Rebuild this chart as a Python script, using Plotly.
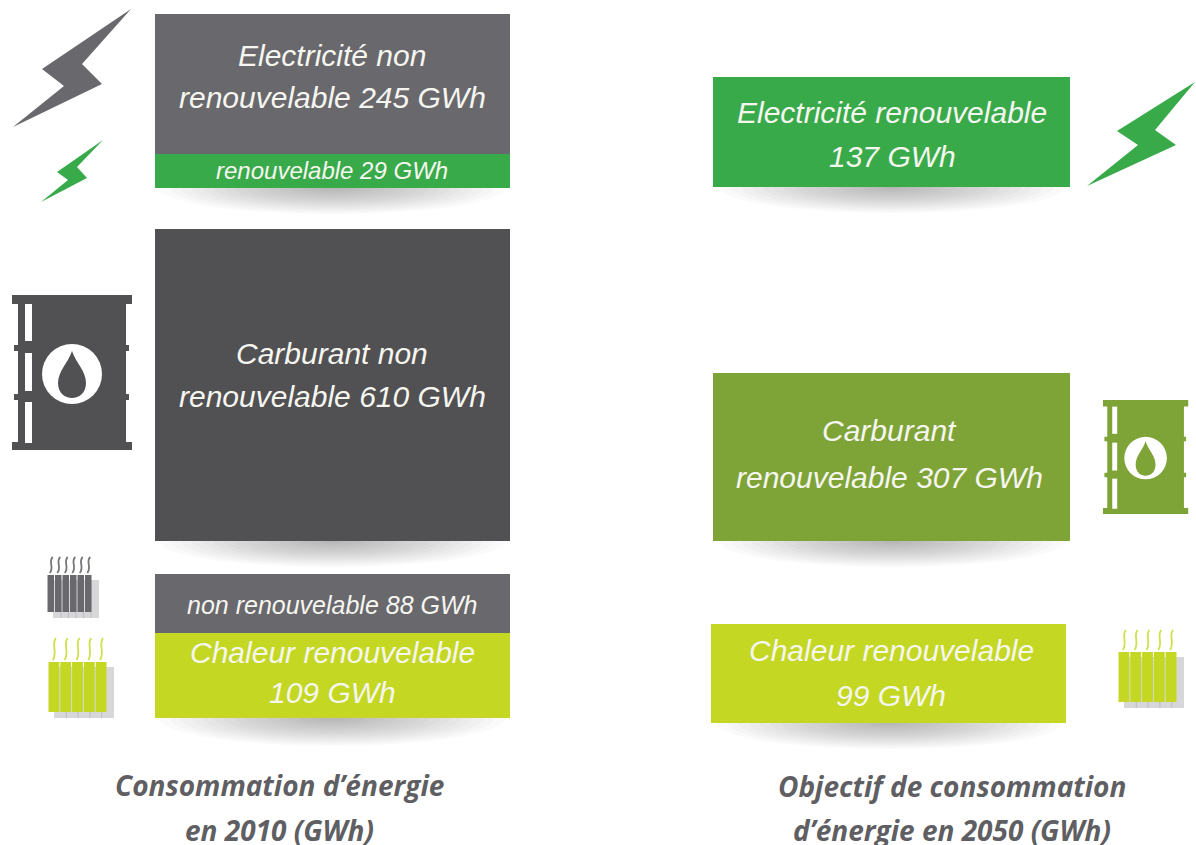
import plotly.graph_objects as go

# ---- data ----
left_values = [245, 29, 610, 88, 109]
right_values = [137, 307, 99]
left_labels = [
    ["Electricité non", "renouvelable {} GWh"],
    ["renouvelable {} GWh"],
    ["Carburant non", "renouvelable {} GWh"],
    ["non renouvelable {} GWh"],
    ["Chaleur renouvelable", "{} GWh"],
]
right_labels = [
    ["Electricité renouvelable", "{} GWh"],
    ["Carburant", "renouvelable {} GWh"],
    ["Chaleur renouvelable", "{} GWh"],
]
titles = [["Consommation d’énergie", "en 2010 (GWh)"], ["Objectif de consommation", "d’énergie en 2050 (GWh)"]]

# drawn block geometry (infographic is not to scale): x0, x1, top, bottom
left_blocks = [(155, 510, 14, 154), (155, 510, 154, 188), (155, 510, 229, 541), (155, 510, 574, 633), (155, 510, 633, 718)]
right_blocks = [(713, 1070, 77, 187), (713, 1070, 373, 541), (711, 1066, 624, 723)]
left_colors = ["#69686d", "#39aa4a", "#515053", "#69686d", "#c4d722"]
right_colors = ["#39aa4a", "#7ea337", "#c4d722"]
left_text_y = [[55, 97], [170], [353, 396], [605], [652, 692]]
right_text_y = [[112, 156], [430, 477], [650, 695]]
right_text_x = [892, 889, 891]
left_font = [30, 24, 30, 25, 30]
right_font = [30, 30, 30]

FONT = "Liberation Sans Narrow, Liberation Sans, sans-serif"
shapes, annotations = [], []


def path(d, color, opacity=1, line=None, lw=0):
    shapes.append(dict(type="path", path=d, fillcolor=color, opacity=opacity, layer="above",
                       line=dict(width=lw, color=line or color)))


def poly(pts, color):
    path("M" + " L".join(f"{x},{y}" for x, y in pts) + " Z", color)


def rect(x0, y0, x1, y1, color, opacity=1, layer="above"):
    shapes.append(dict(type="rect", x0=x0, y0=y0, x1=x1, y1=y1, fillcolor=color, opacity=opacity,
                       layer=layer, line=dict(width=0)))


def circle(cx, cy, r, color):
    shapes.append(dict(type="circle", x0=cx - r, x1=cx + r, y0=cy - r, y1=cy + r, fillcolor=color,
                       layer="above", line=dict(width=0)))


def soft_shadow(cx, y, w, h):
    n = 16
    for i in range(n):
        k = 1 - i / n
        shapes.append(dict(type="circle", x0=cx - w / 2 * k, x1=cx + w / 2 * k, y0=y - h * k, y1=y + h * k,
                           fillcolor="#444444", opacity=0.028, layer="below", line=dict(width=0)))


def barrel(x0, y0, s, sy, color):
    X = lambda v: x0 + v * s
    Y = lambda v: y0 + v * sy
    rect(X(6), Y(0), X(114), Y(155), color)
    rect(X(0), Y(0), X(120), Y(9), color)
    rect(X(0), Y(147), X(120), Y(155), color)
    for h in (53, 102):
        rect(X(2), Y(h - 3), X(117), Y(h + 3), color)
    for a, b in ((9, 46), (58, 96), (107, 148)):
        rect(X(13), Y(a), X(20), Y(b), "white")
    circle(X(60), Y(79), 30 * s, "white")
    d = (f"M{X(60)},{Y(56)} C{X(64)},{Y(68)} {X(74)},{Y(76)} {X(74)},{Y(88)} "
         f"C{X(74)},{Y(108)} {X(46)},{Y(108)} {X(46)},{Y(88)} C{X(46)},{Y(76)} {X(56)},{Y(68)} {X(60)},{Y(56)} Z")
    path(d, color)


def radiator(x0, y0, x1, y1, n, color, steam, steam_top):
    w = (x1 - x0) / n
    for i in range(n):
        rect(x0 + i * w + 6, y0 + 5, x0 + (i + 1) * w + 7, y1 + 6, "#8c8c96", 0.35)
    for i in range(n):
        path_x0, path_x1 = x0 + i * w + 0.5, x0 + (i + 1) * w - 0.5
        rect(path_x0, y0, path_x1, y1, color)
        sx = x0 + (i + 0.5) * w
        sh = y0 - steam_top - 2
        shapes.append(dict(type="path", layer="above", line=dict(width=1.8, color=steam),
                           path=f"M{sx + 2},{steam_top} C{sx - 3},{steam_top + sh * .3} {sx + 4},{steam_top + sh * .6} {sx - 1},{steam_top + sh}"))


# ---- soft shadows under blocks ----
soft_shadow(332, 188, 345, 26)
soft_shadow(332, 541, 345, 26)
soft_shadow(332, 718, 345, 28)
soft_shadow(892, 187, 345, 26)
soft_shadow(892, 541, 345, 26)
soft_shadow(889, 723, 345, 26)

# ---- blocks ----
fig = go.Figure()
for blocks, colors in ((left_blocks, left_colors), (right_blocks, right_colors)):
    fig.add_trace(go.Bar(
        x=[(b[0] + b[1]) / 2 for b in blocks],
        width=[b[1] - b[0] for b in blocks],
        base=[b[2] for b in blocks],
        y=[b[3] - b[2] for b in blocks],
        marker=dict(color=colors, line=dict(width=0)),
        hoverinfo="skip", showlegend=False))

# ---- labels ----
for vals, labs, ys, xs, sizes in (
    (left_values, left_labels, left_text_y, [332] * 5, left_font),
    (right_values, right_labels, right_text_y, right_text_x, right_font),
):
    for v, lab, yy, x, size in zip(vals, labs, ys, xs, sizes):
        for line, y in zip(lab, yy):
            annotations.append(dict(x=x, y=y, text="<i>" + line.format(v) + "</i>", showarrow=False,
                                    xanchor="center", yanchor="middle",
                                    font=dict(family=FONT, size=size, color="#f6f6f0")))

for lines, x, ys in ((titles[0], 279, (785, 830)), (titles[1], 952, (786, 830))):
    for line, y in zip(lines, ys):
        annotations.append(dict(x=x, y=y, text=f"<b><i>{line}</i></b>", showarrow=False, xanchor="center",
                                yanchor="middle", font=dict(family="Open Sans, sans-serif", size=28, color="#5f5f63")))

# ---- icons ----
poly([(131, 9), (42, 69), (64, 86), (13, 127), (102, 84), (82, 64)], "#69686d")
poly([(103, 140), (57, 172), (68, 180), (41, 202), (87, 178), (77, 167)], "#39aa4a")
poly([(1195, 82), (1117, 131), (1138, 145), (1087, 186), (1176, 145), (1155, 130)], "#39aa4a")
barrel(12, 295, 1, 1, "#515053")
barrel(1103, 400, 0.71, 0.735, "#7ea337")
radiator(47, 575, 92, 612, 6, "#69686d", "#77767b", 557)
radiator(48, 662, 107, 712, 5, "#c4d722", "#cfe04a", 638)
radiator(1118, 652, 1177, 702, 5, "#c4d722", "#cfe04a", 630)

fig.update_layout(
    width=1196, height=845, margin=dict(l=0, r=0, t=0, b=0),
    paper_bgcolor="white", plot_bgcolor="white", barmode="overlay",
    xaxis=dict(range=[0, 1196], visible=False, fixedrange=True),
    yaxis=dict(range=[845, 0], visible=False, fixedrange=True),
    shapes=shapes, annotations=annotations,
)
fig.write_html("out.html", config=dict(displayModeBar=False),
               post_script="document.body.style.margin='0';document.body.style.overflow='hidden';")
